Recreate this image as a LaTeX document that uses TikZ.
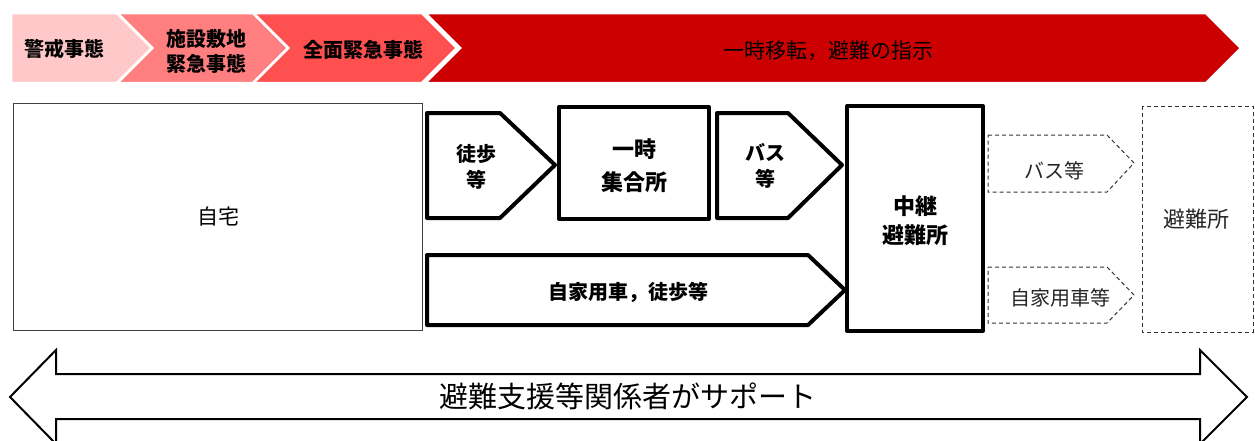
\documentclass[tikz,border=0pt]{standalone}
\usepackage{fontspec}
\newfontfamily\jp{Noto Sans CJK JP}
\definecolor{cA}{HTML}{FFC9C9}
\definecolor{cB}{HTML}{FF7F80}
\definecolor{cC}{HTML}{FF5050}
\definecolor{cD}{HTML}{CC0000}
\tikzset{
  chev/.style={draw=white, line width=2.5pt, line join=miter},
  thick box/.style={draw=black, line width=4pt, line join=round, fill=white},
  dash box/.style={draw=black!80, line width=1pt, dash pattern=on 4pt off 3pt},
  home box/.style={draw=black!75, line width=1pt},
  big arrow/.style={draw=black, line width=2pt, line join=miter},
  lbl/.style={font=\jp\fontsize{21}{26}\selectfont, align=center, inner sep=0pt},
  blbl/.style={font=\jp\bfseries\fontsize{20}{26}\selectfont, align=center, inner sep=0pt},
}
\begin{document}
\begin{tikzpicture}[x=1pt,y=-1pt]
\clip (0,0) rectangle (1255,440);
\fill[white] (0,0) rectangle (1255,440);
% banner chevrons
\path[chev, fill=cD] (425,13) -- (1206,13) -- (1241,48) -- (1206,83) -- (425,83) -- (460,48) -- cycle;
\path[chev, fill=cC] (253,13) -- (422,13) -- (457,48) -- (422,83) -- (253,83) -- (288,48) -- cycle;
\path[chev, fill=cB] (117,13) -- (253,13) -- (288,48) -- (253,83) -- (117,83) -- (152,48) -- cycle;
\path[chev, fill=cA] (11,13) -- (117,13) -- (152,48) -- (117,83) -- (11,83) -- cycle;
\node[blbl, font=\jp\bfseries\fontsize{20}{25}\selectfont] (t1) at (64,49) {警戒事態};
\node[blbl, font=\jp\bfseries\fontsize{20}{25}\selectfont] (t2) at (206,51) {施設敷地\\緊急事態};
\node[blbl, font=\jp\bfseries\fontsize{20}{25}\selectfont] (t3) at (363,50) {全面緊急事態};
\node[lbl, font=\jp\fontsize{21}{25}\selectfont] (t4) at (828,51) {一時移転，避難の指示};
% home
\draw[home box] (13,103) rectangle (422,330);
\node[lbl] (home) at (218,217) {自宅};
% walk arrow
\draw[thick box] (427,113) -- (500,113) -- (555,165) -- (500,218) -- (427,218) -- cycle;
\node[blbl] (walk) at (476,167) {徒歩\\等};
% assembly point
\draw[thick box] (559,107) rectangle (709,219);
\node[blbl, font=\jp\bfseries\fontsize{22}{33}\selectfont] (assem) at (634,166) {一時\\集合所};
% bus arrow
\draw[thick box] (717,113) -- (788,113) -- (842,165) -- (788,218) -- (717,218) -- cycle;
\node[blbl] (bus) at (765,166) {バス\\等};
% car arrow
\draw[thick box] (427,255) -- (808,255) -- (845,290) -- (808,325) -- (427,325) -- cycle;
\node[blbl] (car) at (628,292) {自家用車，徒歩等};
% relay shelter
\draw[thick box] (847,106) rectangle (983,331);
\node[blbl, font=\jp\bfseries\fontsize{22}{29}\selectfont] (relay) at (915,221) {中継\\避難所};
% dashed arrows
\draw[dash box] (988,135) -- (1107,135) -- (1134,163) -- (1107,192) -- (988,192) -- cycle;
\node[lbl, font=\jp\fontsize{20}{24}\selectfont, text=black!85] (bus2) at (1054,171) {バス等};
\draw[dash box] (988,267) -- (1107,267) -- (1134,295) -- (1107,323) -- (988,323) -- cycle;
\node[lbl, font=\jp\fontsize{20}{24}\selectfont, text=black!85] (car2) at (1060,298) {自家用車等};
% shelter
\draw[dash box] (1142,106) rectangle (1253,332);
\node[lbl, font=\jp\fontsize{22}{26}\selectfont, text=black!85] (shelter) at (1196,219) {避難所};
% double arrow
\draw[big arrow, fill=white] (10,397) -- (56,350) -- (56,374) -- (1200,374) -- (1200,350) -- (1247,397) -- (1200,444) -- (1200,419) -- (56,419) -- (56,444) -- cycle;
\node[lbl, font=\jp\fontsize{29}{32}\selectfont] (support) at (628,396) {避難支援等関係者がサポート};
\end{tikzpicture}
\end{document}
